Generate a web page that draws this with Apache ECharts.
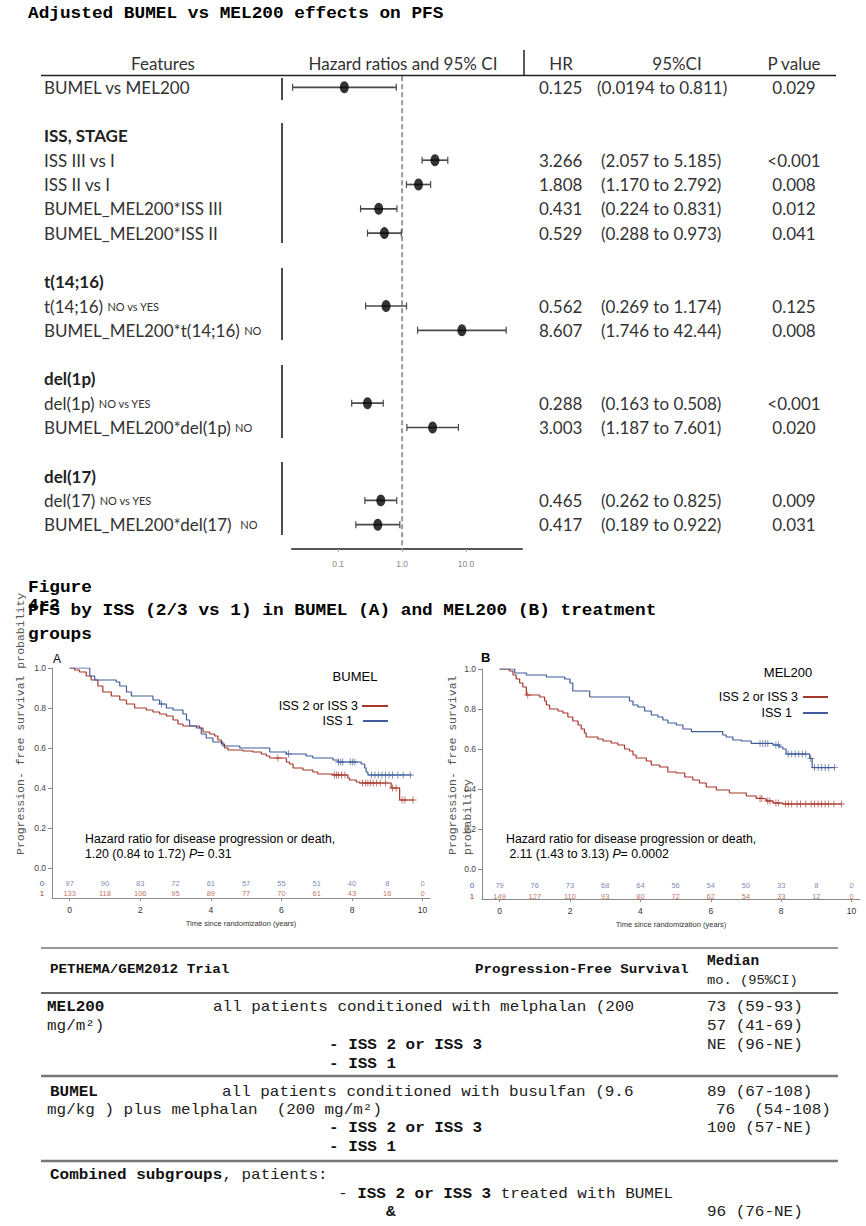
<!DOCTYPE html>
<html><head><meta charset="utf-8">
<script src="https://cdn.jsdelivr.net/npm/echarts@6/dist/echarts.min.js"></script>
<style>html,body{margin:0;padding:0;background:#fff}#c{width:866px;height:1226px}</style>
</head><body><div id="c"></div><script>
// ---------------- Forest plot data ----------------
const forestLabels = ['BUMEL vs MEL200','ISS III vs I','ISS II vs I','BUMEL_MEL200*ISS III','BUMEL_MEL200*ISS II',
  't(14;16) {s|NO vs YES}','BUMEL_MEL200*t(14;16) {s|NO}','del(1p) {s|NO vs YES}','BUMEL_MEL200*del(1p) {s|NO}',
  'del(17) {s|NO vs YES}','BUMEL_MEL200*del(17)  {s|NO}'];
const forestRow = [0,3,4,5,6,9,10,13,14,17,18];
const forestHR = ['0.125','3.266','1.808','0.431','0.529','0.562','8.607','0.288','3.003','0.465','0.417'];
const forestLo = ['0.0194','2.057','1.170','0.224','0.288','0.269','1.746','0.163','1.187','0.262','0.189'];
const forestHi = ['0.811','5.185','2.792','0.831','0.973','1.174','42.44','0.508','7.601','0.825','0.922'];
const forestP = ['0.029','<0.001','0.008','0.012','0.041','0.125','0.008','<0.001','0.020','0.009','0.031'];
const groupHeaders = ['ISS, STAGE','t(14;16)','del(1p)','del(17)'];
const groupHeaderRow = [2,8,12,16];
const forestTickValues = [0.1, 1, 10];

// ---------------- Kaplan-Meier data ----------------
const kmTicksX = [0,2,4,6,8,10];
const kmTicksY = [0,0.2,0.4,0.6,0.8,1.0];
const atRiskTimes = [0,1,2,3,4,5,6,7,8,9,10];
// Panel A: BUMEL
const aRedT = [0,0.14,0.28,0.47,0.61,0.80,0.94,1.18,1.42,1.61,1.84,2.17,2.36,2.55,2.74,2.93,3.07,3.21,3.68,3.78,3.97,4.11,4.20,4.30,4.39,4.49,4.91,5.19,5.43,5.57,5.67,6.14,6.23,6.33,6.61,6.89,7.03,7.46,7.88,7.93,8.12,8.22,9.11,9.35,9.73];
const aRedS = [1.0,0.99,0.98,0.96,0.94,0.91,0.88,0.86,0.84,0.82,0.80,0.79,0.78,0.77,0.76,0.74,0.72,0.71,0.70,0.68,0.67,0.66,0.64,0.62,0.60,0.59,0.585,0.58,0.57,0.56,0.55,0.53,0.52,0.50,0.49,0.48,0.47,0.465,0.45,0.44,0.43,0.425,0.40,0.34,0.34];
const aRedCens = [5.9,7.5,7.56,7.62,7.7,7.8,8.3,8.38,8.45,8.52,8.6,8.7,8.8,8.95,9.15,9.25,9.42,9.5,9.73];
const aBlueT = [0,0.57,0.71,1.32,1.42,1.61,1.75,2.36,2.55,2.74,2.93,3.21,3.31,3.40,3.59,3.73,3.87,4.06,4.34,4.82,5.67,6.14,6.70,6.89,7.46,7.60,8.26,8.36,8.40,8.45,9.68];
const aBlueS = [1.0,0.96,0.94,0.93,0.91,0.88,0.86,0.84,0.82,0.80,0.79,0.77,0.74,0.71,0.70,0.67,0.65,0.63,0.61,0.60,0.58,0.57,0.56,0.55,0.54,0.53,0.52,0.50,0.48,0.465,0.465];
const aBlueCens = [2.6,6.2,7.62,7.68,7.74,7.95,8.02,8.08,8.55,8.65,8.75,8.85,8.95,9.05,9.15,9.3,9.45,9.65];
const aRiskIss1 = [97,90,83,72,61,57,55,51,40,8,0];
const aRiskIss23 = [133,118,106,95,89,77,70,61,43,16,0];
// Panel B: MEL200
const bRedT = [0,0.28,0.38,0.47,0.57,0.66,0.76,1.14,1.28,1.33,1.42,1.66,1.80,1.94,2.08,2.23,2.32,2.41,2.46,2.79,2.94,3.17,3.36,3.55,3.69,3.79,3.88,4.17,4.31,4.55,4.78,5.02,5.26,5.49,5.68,5.87,6.16,6.53,7.01,7.29,7.48,7.58,7.77,8.05,9.71];
const bRedS = [1.0,0.99,0.97,0.95,0.93,0.91,0.87,0.86,0.84,0.82,0.80,0.79,0.78,0.76,0.74,0.72,0.70,0.68,0.66,0.65,0.64,0.63,0.62,0.60,0.59,0.57,0.555,0.54,0.52,0.51,0.485,0.48,0.46,0.445,0.43,0.41,0.395,0.38,0.365,0.353,0.35,0.34,0.33,0.325,0.325];
const bRedCens = [0.8,7.4,7.45,7.62,7.68,7.85,7.92,8.12,8.2,8.3,8.45,8.55,8.7,8.85,8.95,9.05,9.15,9.25,9.35,9.5,9.71];
const bBlueT = [0,0.43,0.76,1.33,1.85,2.0,2.08,2.56,3.69,3.79,3.93,4.12,4.31,4.50,4.64,4.78,5.02,5.21,5.45,6.34,6.44,6.63,6.87,7.15,7.77,7.95,8.05,8.14,8.81,8.88,9.52];
const bBlueS = [1.0,0.98,0.97,0.96,0.95,0.93,0.89,0.86,0.84,0.82,0.81,0.79,0.77,0.76,0.745,0.73,0.72,0.70,0.687,0.67,0.66,0.645,0.64,0.628,0.62,0.61,0.60,0.575,0.553,0.507,0.507];
const bBlueCens = [7.4,7.48,7.55,7.62,7.85,7.92,8.2,8.3,8.4,8.5,8.6,8.7,8.84,8.95,9.05,9.15,9.25,9.35,9.52];
const bRiskIss1 = [79,76,73,68,64,56,54,50,33,8,0];
const bRiskIss23 = [149,127,110,93,80,72,62,54,33,12,0];

// ---------------- styling ----------------
const RED = '#a8372d', BLUE = '#405c9a';
const FF = 'Lato, "Open Sans", sans-serif';
const MONO = '"Liberation Mono", "DejaVu Sans Mono", monospace';
const SANS = '"Liberation Sans", Arial, sans-serif';
const NARROW = '"Liberation Sans Narrow", "Liberation Sans", Arial, sans-serif';

function txt(x, y, text, o) {
  o = o || {};
  const al = o.align || 'left';
  const st = {text: text, fill: o.color || '#000', fontSize: o.size || 12, fontFamily: o.font || SANS,
    fontWeight: o.bold ? 'bold' : 'normal', fontStyle: o.italic ? 'italic' : 'normal',
    textAlign: al, textVerticalAlign: 'middle', align: al, verticalAlign: 'middle'};
  if (o.rich) st.rich = o.rich;
  return {type: 'text', x: x, y: y, scaleX: o.sx || 1, rotation: o.rot || 0, silent: true, style: st, z: 10};
}
function seg(x1, y1, x2, y2, color, w) {
  return {type: 'line', silent: true, shape: {x1: x1, y1: y1, x2: x2, y2: y2}, style: {stroke: color, lineWidth: w}, z: 10};
}
function zip(t, s) { return t.map((v, i) => [v, s[i]]); }
function stepAt(t, s, x) { let v = s[0]; for (let i = 0; i < t.length; i++) { if (t[i] <= x) v = s[i]; } return v; }

// forest geometry
const FG = {left: 292, top: 63, width: 230, height: 486, ymin: -1, ymax: 19};
function rowY(i) { return FG.top + (i - FG.ymin) * FG.height / (FG.ymax - FG.ymin); }

const graphics = [];
// titles
const TITLE = {font: MONO, size: 16, bold: true, sx: 1.11};
graphics.push(txt(28, 14, 'Adjusted BUMEL vs MEL200 effects on PFS', TITLE));
graphics.push(txt(28, 588, 'Figure', TITLE));
graphics.push(txt(28, 606, '4r2', TITLE));
graphics.push(txt(28, 611, 'PFS by ISS (2/3 vs 1) in BUMEL (A) and MEL200 (B) treatment', TITLE));
graphics.push(txt(28, 635, 'groups', TITLE));

// forest header
const FH = {font: FF, size: 17, color: '#333', align: 'center'};
graphics.push(txt(163, 63, 'Features', FH));
graphics.push(txt(403, 63, 'Hazard ratios and 95% CI', FH));
graphics.push(txt(561, 63, 'HR', FH));
graphics.push(txt(677, 63, '95%CI', FH));
graphics.push(txt(794, 63, 'P value', FH));
graphics.push(seg(41, 75.5, 836, 75.5, '#222', 1.3));
graphics.push(seg(524, 50, 524, 75, '#222', 1.5));
[[78,100],[123,243],[268,340],[365,438],[462,535]].forEach(p => graphics.push(seg(282, p[0], 282, p[1], '#111', 1.5)));
const FR = {font: FF, size: 17, color: '#333', rich: {s: {fontSize: 11, fontFamily: FF, fill: '#333'}}};
forestLabels.forEach((lab, i) => {
  const y = rowY(forestRow[i]);
  graphics.push(txt(44, y, lab, FR));
  graphics.push(txt(539, y, forestHR[i], {font: FF, size: 17, color: '#333'}));
  graphics.push(txt(i === 0 ? 597 : 601, y, '(' + forestLo[i] + ' to ' + forestHi[i] + ')', {font: FF, size: 17, color: '#333'}));
  graphics.push(txt(794, y, forestP[i], {font: FF, size: 17, color: '#333', align: 'center'}));
});
groupHeaders.forEach((g, i) => graphics.push(txt(44, rowY(groupHeaderRow[i]), g, {font: FF, size: 17, color: '#222', bold: true})));

// KM panel A annotations
graphics.push(txt(53, 659, 'A', {size: 12}));
graphics.push(txt(355, 676, 'BUMEL', {size: 13, align: 'center'}));
graphics.push(txt(358, 706, 'ISS 2 or ISS 3', {size: 12.5, align: 'right'}));
graphics.push(seg(362, 706, 388, 706, RED, 2));
graphics.push(txt(353, 721, 'ISS 1', {size: 12.5, align: 'right'}));
graphics.push(seg(363, 721, 388, 721, BLUE, 2));
const RI = {rich: {i: {fontStyle: 'italic', fontSize: 12.3, fontFamily: SANS}}, size: 12.3};
graphics.push(txt(85, 839, 'Hazard ratio for disease progression or death,', {size: 12.3}));
graphics.push(txt(85, 854, '1.20 (0.84 to 1.72) {i|P}= 0.31', RI));
graphics.push(txt(42, 883, '0', {size: 8, color: BLUE, align: 'center'}));
graphics.push(txt(42, 893, '1', {size: 8, color: RED, align: 'center'}));
graphics.push(txt(20, 855, 'Progression- free survival probability', {font: MONO, size: 11.5, color: '#555', rot: Math.PI / 2}));

// KM panel B annotations
graphics.push(txt(481, 657, 'B', {size: 13, bold: true}));
graphics.push(txt(788, 672, 'MEL200', {size: 13, align: 'center'}));
graphics.push(txt(798, 697, 'ISS 2 or ISS 3', {size: 12.5, align: 'right'}));
graphics.push(seg(803, 697, 828, 697, RED, 2));
graphics.push(txt(792, 713, 'ISS 1', {size: 12.5, align: 'right'}));
graphics.push(seg(803, 713, 828, 713, BLUE, 2));
graphics.push(txt(506, 839, 'Hazard ratio for disease progression or death,', {size: 12.3}));
graphics.push(txt(506, 854, ' 2.11 (1.43 to 3.13) {i|P}= 0.0002', RI));
graphics.push(txt(472, 885, '0', {size: 8, color: BLUE, align: 'center'}));
graphics.push(txt(472, 896, '1', {size: 8, color: RED, align: 'center'}));
graphics.push(txt(452, 855, 'Progression- free survival', {font: MONO, size: 11.5, color: '#555', rot: Math.PI / 2}));
graphics.push(txt(467, 855, 'probability', {font: MONO, size: 11.5, color: '#555', rot: Math.PI / 2}));

// bottom table
const TB = {font: MONO, size: 14, sx: 1.14, color: '#222', rich: {b: {fontWeight: 'bold', fontFamily: MONO, fontSize: 14, fill: '#111'}}};
const TBB = Object.assign({}, TB, {bold: true, color: '#111'});
const TH = {font: MONO, size: 12.5, sx: 1.14, bold: true, color: '#111'};
graphics.push(seg(41, 948, 838, 948, '#333', 1.2));
graphics.push(seg(41, 993, 838, 993, '#333', 1.5));
graphics.push(seg(41, 1076, 838, 1076, '#777', 2.5));
graphics.push(seg(41, 1161, 838, 1161, '#777', 2.5));
graphics.push(txt(50, 970, 'PETHEMA/GEM2012 Trial', TH));
graphics.push(txt(475, 970, 'Progression-Free Survival', TH));
graphics.push(txt(707, 961, 'Median', {font: MONO, size: 14.5, bold: true, color: '#111'}));
graphics.push(txt(707, 981, 'mo. (95%CI)', {font: MONO, size: 13, sx: 1.06, color: '#222'}));
graphics.push(txt(47, 1008, 'MEL200', TBB));
graphics.push(txt(213, 1008, 'all patients conditioned with melphalan (200', TB));
graphics.push(txt(707, 1008, '73 (59-93)', TB));
graphics.push(txt(47, 1027, 'mg/m\u00b2)', TB));
graphics.push(txt(707, 1027, '57 (41-69)', TB));
graphics.push(txt(329, 1046, '- ISS 2 or ISS 3', TBB));
graphics.push(txt(707, 1046, 'NE (96-NE)', TB));
graphics.push(txt(329, 1065, '- ISS 1', TBB));
graphics.push(txt(50, 1093, 'BUMEL', TBB));
graphics.push(txt(222, 1093, 'all patients conditioned with busulfan (9.6', TB));
graphics.push(txt(707, 1093, '89 (67-108)', TB));
graphics.push(txt(47, 1111, 'mg/kg ) plus melphalan  (200 mg/m\u00b2)', TB));
graphics.push(txt(716, 1111, '76  (54-108)', TB));
graphics.push(txt(329, 1129, '- ISS 2 or ISS 3', TBB));
graphics.push(txt(707, 1129, '100 (57-NE)', TB));
graphics.push(txt(329, 1148, '- ISS 1', TBB));
graphics.push(txt(50, 1176, '{b|Combined subgroups}, patients:', TB));
graphics.push(txt(338, 1195, '- {b|ISS 2 or ISS 3} treated with BUMEL', TB));
graphics.push(txt(386, 1213, '&', TBB));
graphics.push(txt(707, 1213, '96 (76-NE)', TB));

// ---------------- axes ----------------
function kmX(gi, max) {
  return {type: 'value', gridIndex: gi, min: -0.5, max: max,
    axisLine: {onZero: false, lineStyle: {color: '#8a8a8a', width: 1}},
    axisTick: {customValues: kmTicksX, length: 3, lineStyle: {color: '#8a8a8a'}},
    axisLabel: {customValues: kmTicksX, fontSize: 8.5, color: '#333', margin: 7, fontFamily: NARROW},
    splitLine: {show: false},
    name: 'Time since randomization (years)', nameLocation: 'middle', nameGap: 21,
    nameTextStyle: {fontSize: 7.5, color: '#333', fontFamily: SANS}};
}
function kmY(gi) {
  return {type: 'value', gridIndex: gi, min: -0.15, max: 1.0,
    axisLine: {show: true, onZero: false, lineStyle: {color: '#8a8a8a', width: 1}},
    axisTick: {show: true, customValues: kmTicksY, length: 4, lineStyle: {color: '#8a8a8a'}},
    axisLabel: {customValues: kmTicksY, fontSize: 8.5, color: '#444', margin: 6, fontFamily: NARROW, formatter: v => v.toFixed(1)},
    splitLine: {show: false}};
}
function kmLine(gi, t, s, color) {
  return {type: 'line', xAxisIndex: gi, yAxisIndex: gi, step: 'end', symbol: 'none', silent: true,
    data: zip(t, s), lineStyle: {color: color, width: 1.2}, z: 3};
}
const PLUS = 'path://M4.4,0h1.2v10h-1.2z M0,4.4h10v1.2h-10z';
function kmCens(gi, cens, t, s, color) {
  return {type: 'scatter', xAxisIndex: gi, yAxisIndex: gi, symbol: PLUS, symbolSize: 7, silent: true,
    itemStyle: {color: color}, data: cens.map(c => [c, stepAt(t, s, c)]), z: 4};
}
function atRisk(gi, counts, yv, color) {
  return {type: 'scatter', xAxisIndex: gi, yAxisIndex: gi, symbolSize: 1, silent: true,
    itemStyle: {color: 'transparent'},
    label: {show: true, position: 'inside', formatter: p => String(p.value[2]), fontSize: 7.5, color: color, fontFamily: SANS},
    data: atRiskTimes.map((tt, i) => [tt, yv, counts[i]])};
}

const option = {
  animation: false,
  backgroundColor: '#fff',
  grid: [
    {left: FG.left, top: FG.top, width: FG.width, height: FG.height},
    {left: 52, top: 668, width: 378, height: 230},
    {left: 482, top: 669, width: 378, height: 230}
  ],
  xAxis: [
    {type: 'log', logBase: 10, gridIndex: 0, min: 0.019, max: 75, splitNumber: 3, position: 'bottom',
      axisLine: {onZero: false, lineStyle: {color: '#555', width: 2}},
      axisTick: {show: true, length: 3, lineStyle: {color: '#aaa'}},
      axisLabel: {fontSize: 8.5, color: '#888', margin: 10, fontFamily: NARROW, showMinLabel: false, showMaxLabel: false,
        formatter: v => forestTickValues.some(t => Math.abs(t - v) / t < 1e-6) ? v.toFixed(1) : ''},
      splitLine: {show: false}, minorTick: {show: false}},
    kmX(1, 10.21),
    kmX(2, 10.24)
  ],
  yAxis: [
    {type: 'value', gridIndex: 0, min: FG.ymin, max: FG.ymax, inverse: true, show: false},
    kmY(1),
    kmY(2)
  ],
  series: [
    {type: 'line', xAxisIndex: 0, yAxisIndex: 0, symbol: 'none', silent: true, data: [[1, -0.45], [1, 19]],
      lineStyle: {color: '#999', width: 2, type: [5, 3]}, z: 1},
    {type: 'custom', xAxisIndex: 0, yAxisIndex: 0, silent: true,
      data: forestRow.map((r, i) => [Number(forestLo[i]), Number(forestHi[i]), r]),
      encode: {x: [0, 1], y: 2},
      renderItem: function (params, api) {
        const a = api.coord([api.value(0), api.value(2)]);
        const b = api.coord([api.value(1), api.value(2)]);
        const h = 3.5, c = '#4a4a4a';
        return {type: 'group', children: [
          {type: 'line', shape: {x1: a[0], y1: a[1], x2: b[0], y2: b[1]}, style: {stroke: c, lineWidth: 1.7}},
          {type: 'line', shape: {x1: a[0], y1: a[1] - h, x2: a[0], y2: a[1] + h}, style: {stroke: c, lineWidth: 1.2}},
          {type: 'line', shape: {x1: b[0], y1: b[1] - h, x2: b[0], y2: b[1] + h}, style: {stroke: c, lineWidth: 1.2}}
        ]};
      }, z: 2},
    {type: 'scatter', xAxisIndex: 0, yAxisIndex: 0, silent: true, symbol: 'circle', symbolSize: [9, 12],
      itemStyle: {color: '#000'}, data: forestRow.map((r, i) => [Number(forestHR[i]), r]), z: 3},
    kmLine(1, aRedT, aRedS, RED), kmLine(1, aBlueT, aBlueS, BLUE),
    kmCens(1, aRedCens, aRedT, aRedS, RED), kmCens(1, aBlueCens, aBlueT, aBlueS, BLUE),
    atRisk(1, aRiskIss1, -0.075, '#5a6aa0'), atRisk(1, aRiskIss23, -0.125, '#b0503c'),
    kmLine(2, bRedT, bRedS, RED), kmLine(2, bBlueT, bBlueS, BLUE),
    kmCens(2, bRedCens, bRedT, bRedS, RED), kmCens(2, bBlueCens, bBlueT, bBlueS, BLUE),
    atRisk(2, bRiskIss1, -0.08, '#5a6aa0'), atRisk(2, bRiskIss23, -0.135, '#b0503c')
  ],
  graphic: graphics
};
const chart = echarts.init(document.getElementById('c'), null, {renderer: 'svg'});
chart.setOption(option);
</script></body></html>
